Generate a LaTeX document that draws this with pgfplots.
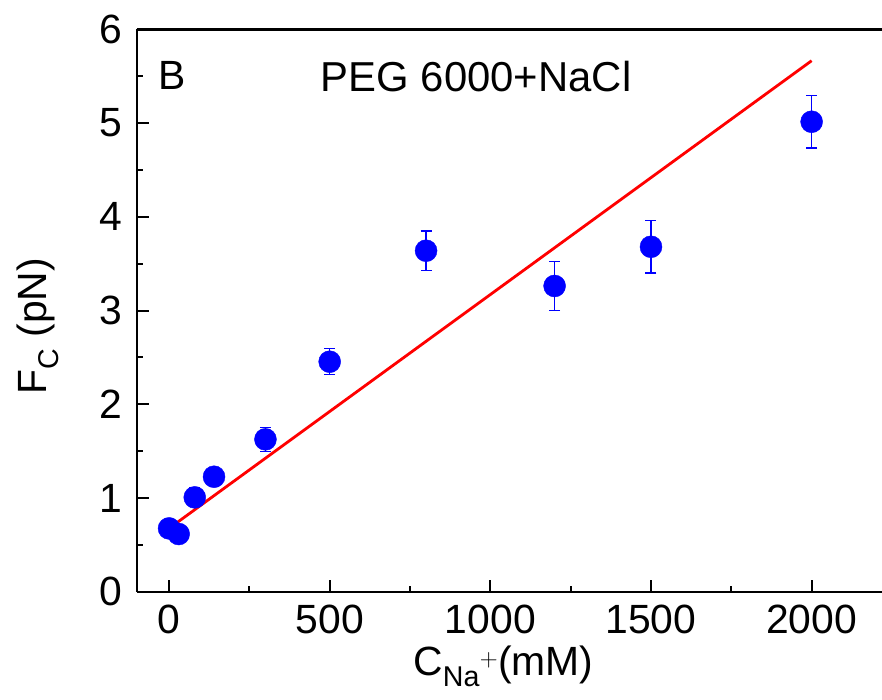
\documentclass[border=0pt]{standalone}
\usepackage{fontspec}
\setmainfont{Liberation Sans}
\usepackage{pgfplots}
\pgfplotsset{compat=1.18}
\definecolor{myblue}{RGB}{0,0,255}
\definecolor{myred}{RGB}{255,0,0}

\pgfplotstableread{
x y e
0 0.676 0.07
30 0.616 0.07
80 1.007 0.10
140 1.227 0.08
300 1.626 0.13
500 2.454 0.14
800 3.638 0.21
1200 3.262 0.26
1500 3.680 0.28
2000 5.014 0.28
}\datatable

\pgfplotstableread{
x y
0 0.676
2000 5.665
}\fittable

\begin{document}
\begin{tikzpicture}
\begin{axis}[
  scale only axis, width=745bp, height=562.4bp,
  xmin=-100, xmax=2219, ymin=0, ymax=6,
  axis x line*=bottom, axis y line*=left,
  clip=false,
  xtick={0,500,...,2000}, minor xtick={250,750,1250,1750},
  ytick={0,1,...,6}, minor ytick={0.5,1.5,...,5.5},
  major tick length=12bp, minor tick length=6bp,
  every tick/.style={black, line width=2bp},
  axis line style={line width=2.4bp, black},
  /pgf/number format/assume math mode=true,
  /pgf/number format/1000 sep={},
  ticklabel style={font=\fontsize{41}{49}\selectfont},
  xticklabel style={anchor=north, inner sep=0pt, yshift=-13bp},
  yticklabel style={anchor=east, inner sep=0pt, xshift=-14bp},
  xlabel={C$_{\mathrm{Na}}{}^{+}$(mM)},
  ylabel={F$_{\mathrm{C}}$ (pN)},
  every axis x label/.style={at={(axis description cs:0.492,-0.1481)}, anchor=base, font=\fontsize{41}{49}\selectfont},
  every axis y label/.style={at={(axis description cs:-0.1207,0.4716)}, rotate=90, anchor=base, font=\fontsize{41}{49}\selectfont},
  xtick align=inside, ytick align=inside,
]
\addplot[myred, line width=2.8bp] table[x=x,y=y]{\fittable};
\addplot[only marks, mark=*, mark size=11bp, color=myblue, mark options={fill=myblue, draw=myblue},
  error bars/.cd, y dir=both, y explicit,
  error bar style={line width=1.3bp, myblue},
  error mark options={rotate=90, mark size=5.5bp, line width=1.3bp, myblue}]
  table[x=x,y=y,y error=e]{\datatable};
\draw[line width=2.4bp, black] (rel axis cs:0,1) -- (rel axis cs:1,1);
\node[anchor=base west, inner sep=0pt, font=\fontsize{41}{49}\selectfont] at (axis cs:-32,5.353) {B};
\node[anchor=base, inner sep=0pt, font=\fontsize{42}{50}\selectfont] at (axis cs:956,5.335) {PEG 6000+NaCl};
\end{axis}
\pgfresetboundingbox
\path ([shift={(-136.9bp,-107.3bp)}]current axis.south west) rectangle ([shift={(0bp,29.3bp)}]current axis.north east);
\end{tikzpicture}
\end{document}
